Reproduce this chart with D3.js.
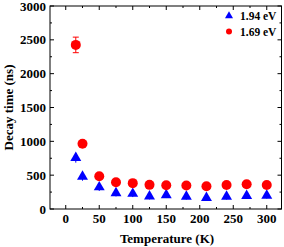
<!DOCTYPE html>
<html>
<head>
<meta charset="utf-8">
<script src="https://cdn.jsdelivr.net/npm/d3@7"></script>
<style>
  body { margin: 0; background: #fff; }
</style>
</head>
<body>
<svg width="284" height="247"></svg>
<script>
  const temps = [15, 25, 50, 75, 100, 125, 150, 180, 210, 240, 270, 300];
  const blueVals = [755, 478, 322, 236, 226, 187, 207, 184, 164, 184, 193, 200];
  const blueErr = [70, 60, 55, 50, 50, 45, 45, 45, 45, 45, 45, 45];
  const redVals = [2425, 965, 485, 395, 382, 357, 352, 348, 336, 355, 367, 355];
  const redErr = [115, 30, 25, 20, 20, 20, 20, 20, 20, 20, 20, 20];
  const xTicks = [0, 50, 100, 150, 200, 250, 300];
  const yTicks = [0, 500, 1000, 1500, 2000, 2500, 3000];
  const seriesNames = ['1.94 eV', '1.69 eV'];

  (function () {
  const svg = d3.select('svg')
    .attr('font-family', "'Liberation Serif', 'Times New Roman', 'DejaVu Serif', serif")
    .attr('font-weight', 'bold');
  const left = 50, right = 281.5, top = 6, bottom = 209;

  const x = d3.scaleLinear().domain([-23.5, 322]).range([left, right]);
  const y = d3.scaleLinear().domain([0, 3000]).range([bottom, top]);

  // frame
  svg.append('rect')
    .attr('x', left).attr('y', top)
    .attr('width', right - left).attr('height', bottom - top)
    .attr('fill', 'none').attr('stroke', '#000').attr('stroke-width', 1);

  const xMinor = d3.range(25, 325, 50);
  const yMinor = d3.range(250, 3000, 500);

  const tickG = svg.append('g').attr('stroke', '#000').attr('stroke-width', 1);
  xTicks.forEach(t => {
    tickG.append('line').attr('x1', x(t)).attr('x2', x(t)).attr('y1', bottom).attr('y2', bottom - 4);
    tickG.append('line').attr('x1', x(t)).attr('x2', x(t)).attr('y1', top).attr('y2', top + 4);
  });
  xMinor.forEach(t => {
    tickG.append('line').attr('x1', x(t)).attr('x2', x(t)).attr('y1', bottom).attr('y2', bottom - 2);
    tickG.append('line').attr('x1', x(t)).attr('x2', x(t)).attr('y1', top).attr('y2', top + 2);
  });
  yTicks.forEach(t => {
    tickG.append('line').attr('y1', y(t)).attr('y2', y(t)).attr('x1', left).attr('x2', left + 4);
    tickG.append('line').attr('y1', y(t)).attr('y2', y(t)).attr('x1', right).attr('x2', right - 4);
  });
  yMinor.forEach(t => {
    tickG.append('line').attr('y1', y(t)).attr('y2', y(t)).attr('x1', left).attr('x2', left + 2);
    tickG.append('line').attr('y1', y(t)).attr('y2', y(t)).attr('x1', right).attr('x2', right - 2);
  });

  svg.append('g').selectAll('text').data(xTicks)
    .enter().append('text')
    .attr('x', d => x(d)).attr('y', bottom + 14)
    .attr('text-anchor', 'middle').attr('font-size', 13)
    .text(d => d);

  svg.append('g').selectAll('text').data(yTicks)
    .enter().append('text')
    .attr('x', left - 4).attr('y', d => y(d)).attr('dy', '0.35em')
    .attr('text-anchor', 'end').attr('font-size', 13)
    .text(d => d);

  svg.append('text')
    .attr('x', 167).attr('y', 243)
    .attr('text-anchor', 'middle').attr('font-size', 13)
    .text('Temperature (K)');

  svg.append('text')
    .attr('transform', `translate(13,${(top + bottom) / 2}) rotate(-90)`)
    .attr('text-anchor', 'middle').attr('font-size', 13)
    .text('Decay time (ns)');

  const tri = d3.symbol().type(d3.symbolTriangle).size(52);

  const drawSeries = (vals, errs, color, marker) => {
    const g = svg.append('g');
    const data = temps.map((t, i) => ({ t, v: vals[i], e: errs[i] }));
    g.selectAll('line.err').data(data)
      .enter().append('line')
      .attr('x1', d => x(d.t)).attr('x2', d => x(d.t))
      .attr('y1', d => y(d.v - d.e)).attr('y2', d => y(d.v + d.e))
      .attr('stroke', color).attr('stroke-width', 1);
    g.selectAll('path.cap').data(data.filter(d => d.e > 80))
      .enter().append('path')
      .attr('d', d => `M${x(d.t) - 3},${y(d.v - d.e)}H${x(d.t) + 3}M${x(d.t) - 3},${y(d.v + d.e)}H${x(d.t) + 3}`)
      .attr('stroke', color).attr('stroke-width', 1);
    if (marker === 'circle') {
      g.selectAll('circle').data(data)
        .enter().append('circle')
        .attr('cx', d => x(d.t)).attr('cy', d => y(d.v)).attr('r', 5)
        .attr('fill', color);
    } else {
      g.selectAll('path.m').data(data)
        .enter().append('path')
        .attr('transform', d => `translate(${x(d.t)},${y(d.v)})`)
        .attr('d', tri).attr('fill', color);
    }
  };

  drawSeries(blueVals, blueErr, '#0000ff', 'triangle');
  drawSeries(redVals, redErr, '#ff0000', 'circle');

  // legend
  const legend = svg.append('g').attr('transform', 'translate(229,16)');
  legend.append('path').attr('d', d3.symbol().type(d3.symbolTriangle).size(28)).attr('fill', '#0000ff');
  legend.append('circle').attr('cy', 15.5).attr('r', 3).attr('fill', '#ff0000');
  legend.selectAll('text').data(seriesNames)
    .enter().append('text')
    .attr('x', 11).attr('y', (d, i) => i * 15.5).attr('dy', '0.35em')
    .attr('font-size', 11.5)
    .text(d => d);
  })();
</script>
</body>
</html>
